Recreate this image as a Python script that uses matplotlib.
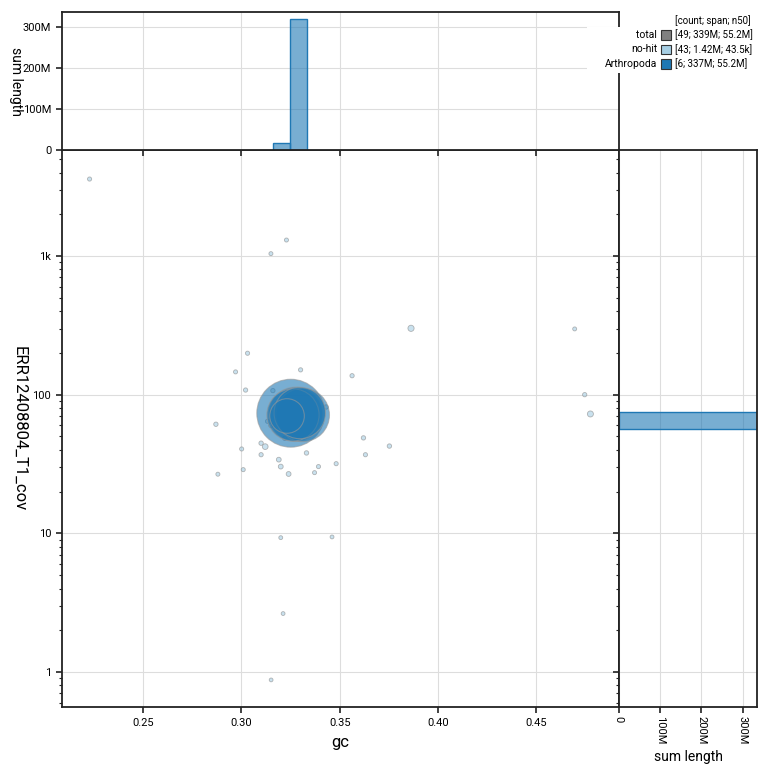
import numpy as np
import matplotlib
matplotlib.use('Agg')
import matplotlib.pyplot as plt
from matplotlib.ticker import FixedLocator, FuncFormatter, LogLocator, NullFormatter
from matplotlib.patches import Rectangle

plt.rcParams['font.family'] = ['Roboto', 'DejaVu Sans']

# Arthropoda contigs
arth_gc = [0.3251, 0.3275, 0.3312, 0.3262, 0.3297, 0.3232]
arth_cov = [73.5, 72.2, 71.4, 71.4, 73.8, 70.2]
arth_len = [105e6, 58e6, 55.2e6, 52e6, 50e6, 17.2e6]

# no-hit contigs
nohit_gc = [0.2227, 0.3229, 0.3150, 0.3863, 0.4696, 0.3031, 0.2970, 0.3301, 0.3563, 0.3021,
            0.3160, 0.3431, 0.2870, 0.3133, 0.3150, 0.3221, 0.3621, 0.3753, 0.3001, 0.3100,
            0.3121, 0.3100, 0.3631, 0.3331, 0.3190, 0.3200, 0.3392, 0.3482, 0.3009, 0.3372,
            0.3240, 0.2880, 0.4747, 0.4776, 0.3200, 0.3461, 0.3212, 0.3151, 0.3250, 0.3280,
            0.3310, 0.3270, 0.3290]
nohit_cov = [3590, 1304, 1040, 301, 298, 199, 146, 151, 137, 108,
             107, 81.5, 61.2, 64.3, 60.1, 48.5, 48.8, 42.6, 40.6, 44.7,
             42.2, 36.9, 36.9, 38.0, 34.0, 30.3, 30.3, 31.8, 28.8, 27.4,
             26.8, 26.7, 100, 72.6, 9.31, 9.42, 2.64, 0.877, 74, 66,
             76, 70, 68]
nohit_len = [21e3, 18e3, 17e3, 120e3, 16e3, 22e3, 19e3, 23e3, 24e3, 25e3,
             26e3, 27e3, 28e3, 26e3, 27e3, 30e3, 28e3, 29e3, 20e3, 29e3,
             90e3, 24e3, 22e3, 30e3, 43.5e3, 46e3, 20e3, 21e3, 19e3, 18e3,
             45e3, 17e3, 25e3, 110e3, 14e3, 13e3, 12e3, 11e3, 60e3, 55e3,
             52e3, 50e3, 48e3]

arth_color = '#1f78b4'
nohit_color = '#a6cee3'
total_color = '#808080'
arth_fill = (0.122, 0.471, 0.706, 0.6)


def human(v):
    for div, suf in [(1e9, 'G'), (1e6, 'M'), (1e3, 'k')]:
        if v >= div:
            return f"{v / div:.3g}{suf}"
    return f"{v:.3g}"


def n50(lengths):
    s = np.sort(np.asarray(lengths))[::-1]
    c = np.cumsum(s)
    return s[np.argmax(c >= c[-1] / 2)]


def size(lengths):
    return 5 + 0.0023 * np.asarray(lengths) ** 0.75


fig = plt.figure(figsize=(7.7, 7.7), dpi=100)
L, B, W, H = 0.0801, 0.0812, 0.7234, 0.7236
ax = fig.add_axes([L, B, W, H])
ax_top = fig.add_axes([L, B + H, W, 0.18], sharex=ax)
ax_right = fig.add_axes([L + W, B, 0.18, H], sharey=ax)

# scatter: no-hit below, Arthropoda on top, big circles first
ax.scatter(nohit_gc, nohit_cov, s=size(nohit_len), facecolor=nohit_color, alpha=0.6,
           edgecolors='#888888', linewidths=0.6, zorder=2)
order = np.argsort(arth_len)[::-1]
ax.scatter(np.array(arth_gc)[order], np.array(arth_cov)[order], s=size(np.array(arth_len)[order]),
           facecolor=arth_color, alpha=0.6, edgecolors='#999999', linewidths=0.8, zorder=3)

ax.set_yscale('log')
ax.set_xlim(0.2085, 0.492)
ax.set_ylim(0.555, 5785)
ax.xaxis.set_major_locator(FixedLocator([0.25, 0.30, 0.35, 0.40, 0.45]))
ax.xaxis.set_major_formatter(FuncFormatter(lambda v, p: f"{v:.2f}"))
ax.yaxis.set_major_locator(FixedLocator([1, 10, 100, 1000]))
ax.yaxis.set_minor_locator(LogLocator(base=10, subs=np.arange(2, 10)))
ax.yaxis.set_major_formatter(FuncFormatter(lambda v, p: human(v)))
ax.yaxis.set_minor_formatter(NullFormatter())

# histograms (only non-empty bins drawn)
gc_bins = np.arange(0.2043, 0.50, 0.0086)
cov_bins = 10 ** np.arange(-0.2127, 3.9, 0.1227)

for vals, lens, fc, ec, lw in [(nohit_gc, nohit_len, nohit_color, 'none', 0),
                               (arth_gc, arth_len, arth_fill, arth_color, 1)]:
    h, e = np.histogram(vals, bins=gc_bins, weights=lens)
    m = h > 0
    ax_top.bar(e[:-1][m], h[m], width=np.diff(e)[m], align='edge', facecolor=fc, edgecolor=ec, lw=lw)

for vals, lens, fc, ec, lw in [(nohit_cov, nohit_len, nohit_color, 'none', 0),
                               (arth_cov, arth_len, arth_fill, arth_color, 1)]:
    h, e = np.histogram(vals, bins=cov_bins, weights=lens)
    m = h > 0
    ax_right.barh(e[:-1][m], h[m], height=np.diff(e)[m], align='edge', facecolor=fc, edgecolor=ec, lw=lw)

ax_top.set_ylim(0, 3.38e8)
ax_top.yaxis.set_major_locator(FixedLocator([0, 1e8, 2e8, 3e8]))
ax_top.yaxis.set_major_formatter(FuncFormatter(lambda v, p: human(v)))
ax_top.tick_params(labelbottom=False)

ax_right.set_xlim(0, 3.356e8)
ax_right.xaxis.set_major_locator(FixedLocator([0, 1e8, 2e8, 3e8]))
ax_right.xaxis.set_major_formatter(FuncFormatter(lambda v, p: human(v)))
ax_right.tick_params(axis='x', labelrotation=-90, pad=2)
ax_right.tick_params(labelleft=False)

for a in (ax, ax_top, ax_right):
    a.grid(True, color='#dddddd', lw=0.8)
    a.set_axisbelow(True)
    a.tick_params(which='major', direction='out', length=4, width=1.2, labelsize=8, color='#222222')
    a.tick_params(which='minor', direction='out', length=2.5, width=0.8, color='#222222')
    for sp in a.spines.values():
        sp.set_linewidth(1.3)
        sp.set_color('#222222')

ax.set_xlabel('gc', fontsize=12, va='top')
ax.xaxis.set_label_coords(0.5, -0.05)
ax.set_ylabel('ERR12408804_T1_cov', fontsize=12, rotation=-90, va='top')
ax.yaxis.set_label_coords(-0.062, 0.5)
ax_top.set_ylabel('sum length', fontsize=10, rotation=-90, va='top')
ax_top.yaxis.set_label_coords(-0.07, 0.5)
ax_right.set_xlabel('sum length', fontsize=10, va='top')
ax_right.xaxis.set_label_coords(0.5, -0.076)

# legend
fig.add_artist(Rectangle((587 / 770, 1 - 73 / 770), 183 / 770, 46 / 770, transform=fig.transFigure,
                         facecolor='white', edgecolor='none', zorder=5))
fig.text(675 / 770, 1 - 20.7 / 770, '[count; span; n50]', fontsize=7, ha='left', va='center', zorder=6)
all_len = list(arth_len) + list(nohit_len)
rows = [('total', total_color, all_len),
        ('no-hit', nohit_color, nohit_len),
        ('Arthropoda', arth_color, arth_len)]
for i, (name, col, lens) in enumerate(rows):
    yc = 1 - (35 + 14.5 * i) / 770
    fig.text(657 / 770, yc, name, fontsize=7.5, ha='right', va='center', zorder=6)
    fig.add_artist(Rectangle((661 / 770, yc - 4.5 / 770), 9.5 / 770, 9.5 / 770, transform=fig.transFigure,
                             facecolor=col, edgecolor='#333333', lw=0.8, zorder=6))
    fig.text(675 / 770, yc, f"[{len(lens)}; {human(sum(lens))}; {human(n50(lens))}]",
             fontsize=7, ha='left', va='center', zorder=6)

fig.savefig('out.png', dpi=100)
